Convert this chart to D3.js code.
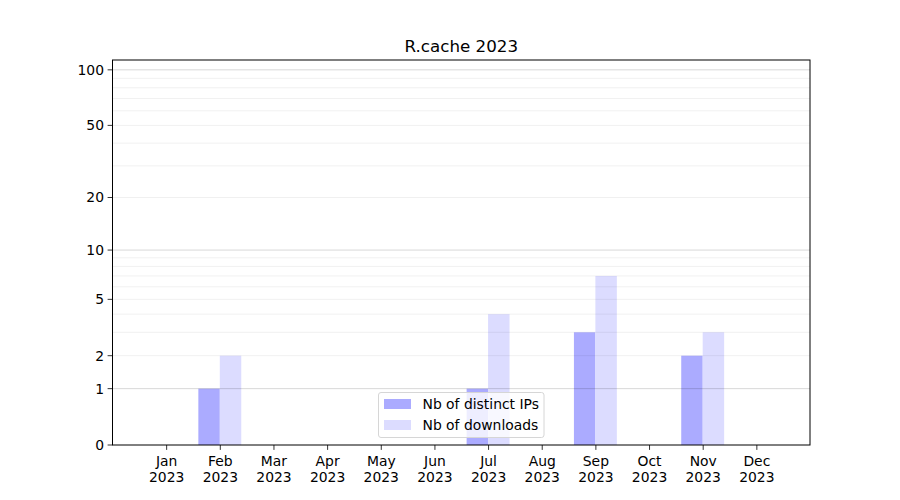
<!DOCTYPE html>
<html><head><meta charset="utf-8">
<script src="https://cdn.jsdelivr.net/npm/d3@7"></script>
<style>body{margin:0;background:#fff;} text{font-family:"DejaVu Sans",sans-serif;}</style>
</head><body>
<svg id="c" width="900" height="500"></svg>
<script>
const months = ["Jan","Feb","Mar","Apr","May","Jun","Jul","Aug","Sep","Oct","Nov","Dec"];
const yearLabel = "2023";
const distinctIPs = [0,1,0,0,0,0,1,0,3,0,2,0];
const downloads   = [0,2,0,0,0,0,4,0,7,0,3,0];
const yTicks = [0,1,2,5,10,20,50,100];
const majorGrid = [1,10,100];
const minorGrid = [2,3,4,5,6,7,8,9,20,30,40,50,60,70,80,90];
const seriesNames = ["Nb of distinct IPs","Nb of downloads"];
const title = "R.cache 2023";
const yMax = 113;

const svg = d3.select("#c");
const L=112.5, R=810, T=60, B=445;
const x = d3.scalePoint().domain(months).range([L,R]).padding(1);
const step = x.step();
const bw = 0.4*step;
const ys = d3.scaleLinear().domain([0, Math.log10(1+yMax)]).range([B,T]);
const y = v => ys(Math.log10(1+v));

svg.append("rect").attr("x",0).attr("y",0).attr("width",900).attr("height",500).attr("fill","#fff");

// bars
svg.append("g").selectAll("rect").data(months).join("rect")
  .attr("x",m=>x(m)-bw).attr("width",bw)
  .attr("y",(m,i)=>y(distinctIPs[i])).attr("height",(m,i)=>B-y(distinctIPs[i]))
  .attr("fill","rgb(171,171,255)");
svg.append("g").selectAll("rect").data(months).join("rect")
  .attr("x",m=>x(m)).attr("width",bw)
  .attr("y",(m,i)=>y(downloads[i])).attr("height",(m,i)=>B-y(downloads[i]))
  .attr("fill","rgb(220,220,255)");

// grid
svg.append("g").selectAll("line").data(minorGrid).join("line")
  .attr("x1",L).attr("x2",R).attr("y1",d=>y(d)).attr("y2",d=>y(d))
  .attr("stroke","#000").attr("stroke-opacity",0.08).attr("stroke-width",0.8);
svg.append("g").selectAll("line").data(majorGrid).join("line")
  .attr("x1",L).attr("x2",R).attr("y1",d=>y(d)).attr("y2",d=>y(d))
  .attr("stroke","#000").attr("stroke-opacity",0.2).attr("stroke-width",0.8);

// frame
svg.append("rect").attr("x",L).attr("y",T).attr("width",R-L).attr("height",B-T)
  .attr("fill","none").attr("stroke","#000").attr("stroke-width",1);

// y axis
const yAxis = svg.append("g");
yTicks.forEach(t=>{
  const yy = y(t);
  yAxis.append("line").attr("x1",L-4.9).attr("x2",L).attr("y1",yy).attr("y2",yy).attr("stroke","#000").attr("stroke-width",0.8);
  yAxis.append("text").attr("x",L-8.5).attr("y",yy).attr("dy","0.35em").attr("text-anchor","end")
    .attr("font-size","13.9px").text(t);
});

// x axis
const xAxis = svg.append("g").attr("transform",`translate(0,${B})`)
  .call(d3.axisBottom(x).tickSize(4.9).tickSizeOuter(0).tickFormat(""));
xAxis.select(".domain").remove();
xAxis.selectAll(".tick line").attr("stroke-width",0.8);
xAxis.selectAll(".tick").each(function(m){
  const t = d3.select(this).append("text").attr("fill","#000").attr("font-size","13.9px").attr("text-anchor","middle");
  t.append("tspan").attr("x",0).attr("y",21).text(m);
  t.append("tspan").attr("x",0).attr("y",37).text(yearLabel);
});

// title
svg.append("text").attr("x",(L+R)/2).attr("y",52).attr("text-anchor","middle").attr("font-size","16.7px").text(title);

// legend
const lg = svg.append("g");
lg.append("rect").attr("x",378.5).attr("y",392.5).attr("width",165.5).attr("height",45).attr("rx",2.5)
  .attr("fill","#fff").attr("fill-opacity",0.8).attr("stroke","#d6d6d6").attr("stroke-width",1);
const colors = ["rgb(171,171,255)","rgb(220,220,255)"];
seriesNames.forEach((n,i)=>{
  const yy = 399 + i*21;
  lg.append("rect").attr("x",384).attr("y",yy).attr("width",27).attr("height",10).attr("fill",colors[i]);
  lg.append("text").attr("x",422.5).attr("y",yy+5).attr("dy","0.35em").attr("font-size","13.9px").text(n);
});
</script>
</body></html>
